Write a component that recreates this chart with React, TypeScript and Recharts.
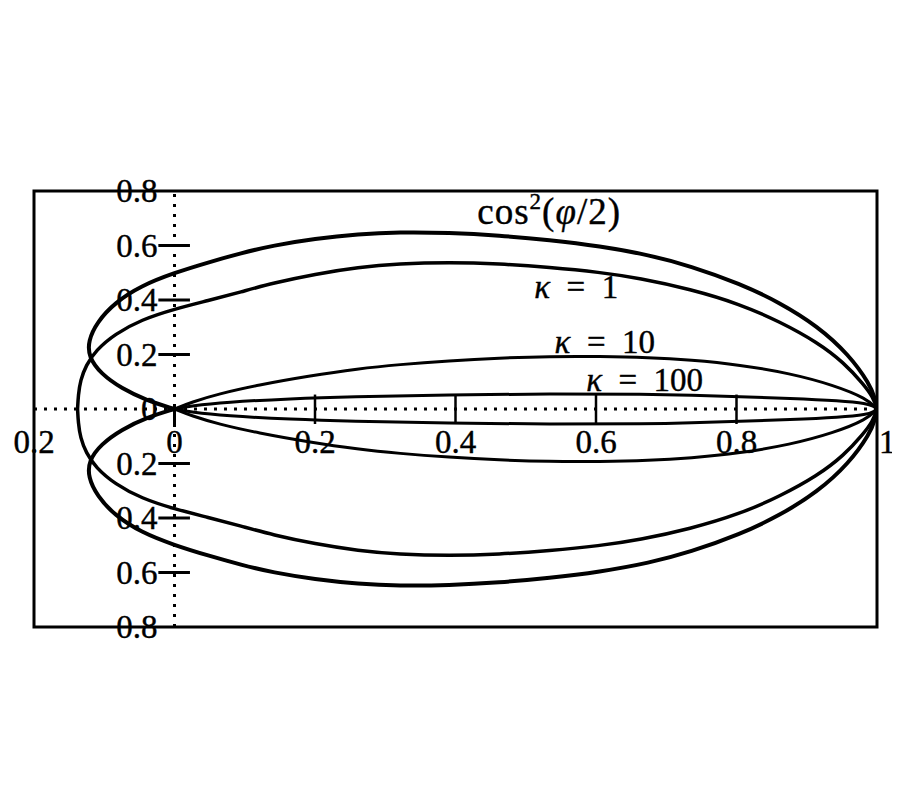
import React from "react";
import { LineChart, Line, XAxis, YAxis, ReferenceLine, ReferenceArea, ReferenceDot } from "recharts";

const FONT = '"Liberation Serif", "Times New Roman", serif';

// upper halves of the closed curves (x, y); lower halves are their mirror
const cardioidUpper: [number, number][] = [
  [1, 0], [0.997, 0.04], [0.99, 0.09], [0.96, 0.2], [0.915, 0.305], [0.862, 0.39],
  [0.805, 0.46], [0.734, 0.525], [0.676, 0.565], [0.605, 0.598], [0.534, 0.62],
  [0.462, 0.637], [0.391, 0.647], [0.319, 0.649], [0.262, 0.642], [0.2, 0.625],
  [0.14, 0.6], [0.095, 0.572], [0.048, 0.538], [0, 0.5], [-0.048, 0.452],
  [-0.085, 0.39], [-0.11, 0.32], [-0.123, 0.25], [-0.122, 0.19], [-0.105, 0.13],
  [-0.075, 0.075], [-0.04, 0.032], [0, 0],
];

const kappa1Upper: [number, number][] = [
  [1, 0], [0.994, 0.045], [0.981, 0.09], [0.953, 0.17], [0.915, 0.245], [0.862, 0.32],
  [0.805, 0.385], [0.734, 0.44], [0.662, 0.48], [0.605, 0.502], [0.534, 0.52],
  [0.462, 0.533], [0.391, 0.538], [0.319, 0.533], [0.262, 0.52], [0.2, 0.495],
  [0.14, 0.462], [0.095, 0.43], [0.048, 0.398], [0, 0.367], [-0.047, 0.328],
  [-0.085, 0.275], [-0.112, 0.215], [-0.126, 0.16], [-0.134, 0.105], [-0.137, 0.05],
  [-0.138, 0],
];

const kappa10Upper: [number, number][] = [
  [1, 0], [0.986, 0.038], [0.938, 0.088], [0.876, 0.131], [0.805, 0.162], [0.734, 0.18],
  [0.676, 0.189], [0.605, 0.193], [0.534, 0.193], [0.462, 0.187], [0.391, 0.177],
  [0.319, 0.163], [0.262, 0.148], [0.191, 0.121], [0.119, 0.088], [0.062, 0.055],
  [0.024, 0.025], [0, 0],
];

const kappa100Upper: [number, number][] = [
  [1, 0], [0.995, 0.01], [0.986, 0.02], [0.948, 0.03], [0.876, 0.039], [0.805, 0.045],
  [0.734, 0.051], [0.676, 0.055], [0.534, 0.056], [0.391, 0.052], [0.248, 0.045],
  [0.167, 0.038], [0.072, 0.025], [0.024, 0.012], [0, 0],
];

const yTickValues = [0.8, 0.6, 0.4, 0.2, 0, -0.2, -0.4, -0.6, -0.8];
const yTickLabels = ["0.8", "0.6", "0.4", "0.2", "0", "0.2", "0.4", "0.6", "0.8"];
const yTickMarks = [0.6, 0.4, 0.2, -0.2, -0.4, -0.6];

const xTickValues = [-0.2, 0, 0.2, 0.4, 0.6, 0.8, 1];
const xTickLabels = ["0.2", "0", "0.2", "0.4", "0.6", "0.8", "1"];
const xTickMarks = [0.2, 0.4, 0.6, 0.8];

const curveLabels = [
  { id: "cos", x: 0.431, y: 0.678, kappa: null as string | null },
  { id: "k1", x: 0.512, y: 0.407, kappa: "1" },
  { id: "k10", x: 0.541, y: 0.204, kappa: "10" },
  { id: "k100", x: 0.586, y: 0.067, kappa: "100" },
];

const curves = [
  { id: "cos", pts: cardioidUpper, width: 4 },
  { id: "k1", pts: kappa1Upper, width: 3.5 },
  { id: "k10", pts: kappa10Upper, width: 3 },
  { id: "k100", pts: kappa100Upper, width: 3 },
];

const upper = (pts: [number, number][]) => pts.map(([x, y]) => ({ x, y }));
const lower = (pts: [number, number][]) => pts.map(([x, y]) => ({ x, y: -y }));

// scanned TeX glyphs look a bit heavier than the plain serif
const textStyle = { fontFamily: FONT, fontSize: 33, fill: "#000", stroke: "#000", strokeWidth: 0.4 };

export default function App() {
  return (
    <LineChart width={892} height={784} margin={{ top: 183, right: 23, bottom: 165, left: 26 }}>
      <XAxis type="number" dataKey="x" domain={[-0.2, 1]} hide allowDataOverflow />
      <YAxis type="number" domain={[-0.8, 0.8]} hide allowDataOverflow />

      {/* frame and dotted axes through the origin */}
      <ReferenceArea x1={-0.2} x2={1} y1={-0.8} y2={0.8} fill="none" fillOpacity={0} stroke="#000" strokeWidth={3} />
      <ReferenceLine x={0} stroke="#000" strokeWidth={3} strokeDasharray="3 7" />
      <ReferenceLine y={0} stroke="#000" strokeWidth={3} strokeDasharray="3 7" />

      {yTickMarks.map((v) => (
        <ReferenceLine key={"yt" + v} segment={[{ x: -0.023, y: v }, { x: 0.022, y: v }]} stroke="#000" strokeWidth={3} />
      ))}
      {xTickMarks.map((v) => (
        <ReferenceLine key={"xt" + v} segment={[{ x: v, y: -0.055 }, { x: v, y: 0.053 }]} stroke="#000" strokeWidth={2.5} />
      ))}
      <ReferenceLine segment={[{ x: 0, y: 0 }, { x: 0, y: -0.06 }]} stroke="#000" strokeWidth={3} />

      {curves.map((c) => (
        <Line key={c.id + "u"} data={upper(c.pts)} dataKey="y" type="basis" stroke="#000" strokeWidth={c.width} dot={false} isAnimationActive={false} />
      ))}
      {curves.map((c) => (
        <Line key={c.id + "l"} data={lower(c.pts)} dataKey="y" type="basis" stroke="#000" strokeWidth={c.width} dot={false} isAnimationActive={false} />
      ))}

      {yTickValues.map((v, i) => (
        <ReferenceDot
          key={"yl" + i}
          x={0}
          y={v}
          r={0}
          fill="none"
          stroke="none"
          label={{
            content: (p: any) => (
              <text x={p.viewBox.x - 17} y={p.viewBox.y + 11} textAnchor="end" {...textStyle}>
                {yTickLabels[i]}
              </text>
            ),
          }}
        />
      ))}
      {xTickValues.map((v, i) => (
        <ReferenceDot
          key={"xl" + i}
          x={v}
          y={0}
          r={0}
          fill="none"
          stroke="none"
          label={{
            content: (p: any) => (
              <text
                x={p.viewBox.x + (v === 1 ? 2 : 0)}
                y={p.viewBox.y + 44}
                textAnchor={v === 1 ? "start" : "middle"}
                {...textStyle}
              >
                {xTickLabels[i]}
              </text>
            ),
          }}
        />
      ))}

      {curveLabels.map((l) => (
        <ReferenceDot
          key={"cl" + l.id}
          x={l.x}
          y={l.y}
          r={0}
          fill="none"
          stroke="none"
          label={{
            content: (p: any) =>
              l.kappa === null ? (
                <text x={p.viewBox.x} y={p.viewBox.y} {...textStyle} fontSize={37} letterSpacing={1}>
                  cos
                  <tspan dy={-15} fontSize={23}>2</tspan>
                  <tspan dy={15}>(</tspan>
                  <tspan fontStyle="italic">φ</tspan>
                  <tspan>/2)</tspan>
                </text>
              ) : (
                <text x={p.viewBox.x} y={p.viewBox.y} {...textStyle}>
                  <tspan fontStyle="italic">κ</tspan>
                  {"\u2002=\u2002" + l.kappa}
                </text>
              ),
          }}
        />
      ))}
    </LineChart>
  );
}
